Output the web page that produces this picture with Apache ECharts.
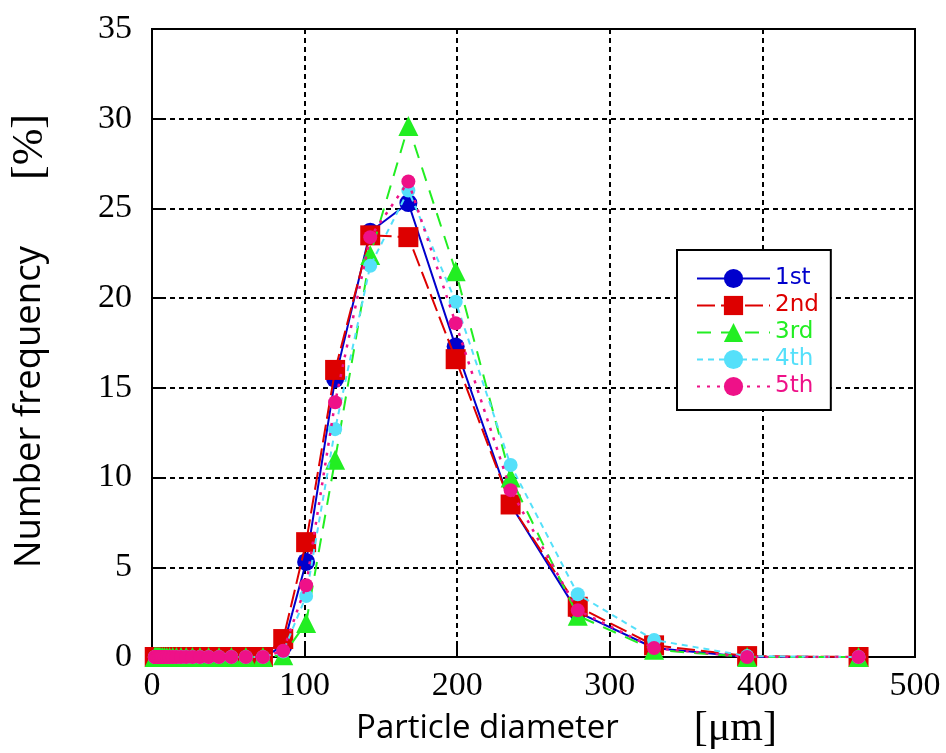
<!DOCTYPE html>
<html>
<head>
<meta charset="utf-8">
<script src="https://cdn.jsdelivr.net/npm/echarts@6/dist/echarts.min.js"></script>
<style>
html,body{margin:0;padding:0;background:#fff;}
#chart{width:946px;height:753px;}
</style>
</head>
<body>
<div id="chart"></div>
<script>
// Particle diameter bins [um]
var diameters = [1.8, 2.1, 2.5, 3.0, 3.5, 4.2, 4.9, 5.8, 6.9, 8.2, 9.7, 11.5, 13.6, 16.0, 19.0, 22.4, 26.5, 31.4, 37.1, 43.9, 52.0, 61.5, 72.7,
                 86, 101, 120, 143, 168, 199, 235, 279, 329, 390, 463];
// Number frequency [%]
var first  = [0,0,0,0,0,0,0,0,0,0,0,0,0,0,0,0,0,0,0,0,0,0,0, 0.6, 5.3, 15.5, 23.7, 25.3, 17.3, 8.5, 2.5, 0.5, 0, 0];
var second = [0,0,0,0,0,0,0,0,0,0,0,0,0,0,0,0,0,0,0,0,0,0,0, 1.0, 6.4, 16.0, 23.5, 23.4, 16.6, 8.5, 2.8, 0.65, 0.05, 0];
var third  = [0,0,0,0,0,0,0,0,0,0,0,0,0,0,0,0,0,0,0,0,0,0,0, 0.1, 1.9, 11.0, 22.4, 29.6, 21.5, 10.0, 2.3, 0.4, 0, 0];
var fourth = [0,0,0,0,0,0,0,0,0,0,0,0,0,0,0,0,0,0,0,0,0,0,0, 0.3, 3.4, 12.7, 21.8, 26.0, 19.8, 10.7, 3.5, 0.95, 0.05, 0];
var fifth  = [0,0,0,0,0,0,0,0,0,0,0,0,0,0,0,0,0,0,0,0,0,0,0, 0.35, 4.0, 14.2, 23.4, 26.5, 18.6, 9.3, 2.6, 0.5, 0, 0];
var seriesNames = ['1st', '2nd', '3rd', '4th', '5th'];
var xTicks = [0, 100, 200, 300, 400, 500];
var yTicks = [0, 5, 10, 15, 20, 25, 30, 35];

function pairs(ys){ return diameters.map(function(d,i){ return [d, ys[i]]; }); }

var styles = [
  {color:'#0000cc', symbol:'circle', size:18, type:'solid', width:2},
  {color:'#dd0000', symbol:'rect', size:20, type:[18,6], width:2},
  {color:'#22ee22', symbol:'triangle', size:20, type:[14,10], width:2},
  {color:'#55e0fa', symbol:'circle', size:14, type:[6,5], width:2},
  {color:'#ee1188', symbol:'circle', size:14, type:[3,7], width:2.5}
];
var allData = [first, second, third, fourth, fifth];

var chart = echarts.init(document.getElementById('chart'), null, {renderer:'canvas'});
var gridLine = {show:true, lineStyle:{color:'#000', type:[5,4], width:2}};
chart.setOption({
  backgroundColor:'#fff',
  animation:false,
  grid:{left:152, right:31, top:29, bottom:96, show:true, borderColor:'#000', borderWidth:2, backgroundColor:'transparent',
        containLabel:false, outerBoundsMode:'none'},
  xAxis:{
    type:'value', min:xTicks[0], max:xTicks[xTicks.length-1], interval:100,
    axisLine:{show:true, lineStyle:{color:'#000', width:2}},
    axisTick:{show:true, inside:true, length:14, lineStyle:{color:'#000', width:2}},
    splitLine:gridLine,
    axisLabel:{fontFamily:'Liberation Serif', fontSize:34, color:'#000', margin:12},
    name:'{a|Particle diameter}{b|[μm]}', nameLocation:'middle', nameGap:44,
    nameTextStyle:{rich:{
      a:{fontFamily:'Open Sans', fontSize:33, color:'#000', padding:[0,0,0,66]},
      b:{fontFamily:'Liberation Serif', fontSize:42, color:'#000', padding:[0,0,0,75]}
    }}
  },
  yAxis:{
    type:'value', min:yTicks[0], max:yTicks[yTicks.length-1], interval:5,
    axisLine:{show:true, lineStyle:{color:'#000', width:2}},
    axisTick:{show:true, inside:true, length:14, lineStyle:{color:'#000', width:2}},
    splitLine:gridLine,
    axisLabel:{fontFamily:'Liberation Serif', fontSize:34, color:'#000', margin:20},
    name:'{a|Number frequency}{b|[%]}', nameLocation:'middle', nameGap:100, nameRotate:90,
    nameTextStyle:{rich:{
      a:{fontFamily:'Open Sans', fontSize:36.5, color:'#000', padding:[0,0,0,4]},
      b:{fontFamily:'Liberation Serif', fontSize:44, color:'#000', padding:[0,0,0,66]}
    }}
  },
  legend:{
    orient:'vertical', left:677, top:250,
    itemWidth:73, itemHeight:24, itemGap:4,
    padding:[17,12,12,19],
    borderColor:'#000', borderWidth:2, backgroundColor:'#fff',
    textStyle:{fontFamily:'DejaVu Sans', fontSize:23},
    data: seriesNames.map(function(n,i){ return {name:n, textStyle:{color:styles[i].color}}; })
  },
  series: allData.map(function(ys,i){
    var s = styles[i];
    return {
      name:seriesNames[i], type:'line', data:pairs(ys),
      symbol:s.symbol, symbolSize:s.size, showAllSymbol:true,
      itemStyle:{color:s.color},
      lineStyle:{color:s.color, type:s.type, width:s.width},
      z:2+i
    };
  })
});
</script>
</body>
</html>
